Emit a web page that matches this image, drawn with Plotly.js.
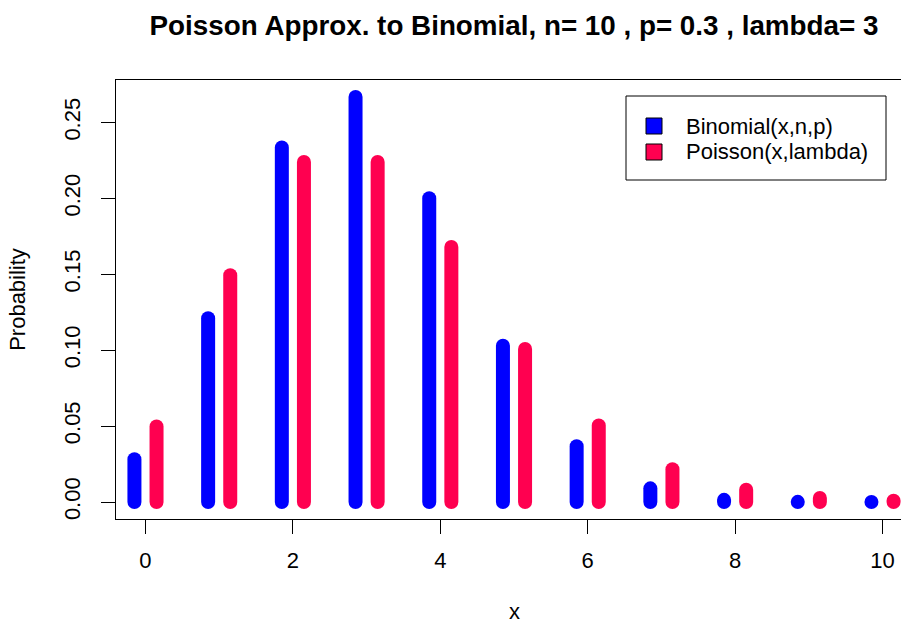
<!DOCTYPE html>
<html>
<head>
<meta charset="utf-8">
<script src="https://cdn.plot.ly/plotly-3.0.1.min.js"></script>
<style>
  html, body { margin: 0; padding: 0; overflow: hidden; background: #fff; }
  #chart { width: 912px; height: 626px; }
  .scatterlayer .js-line { stroke-linecap: round; }
</style>
</head>
<body>
<div id="chart"></div>
<script>
// Data
var xValues = [0, 1, 2, 3, 4, 5, 6, 7, 8, 9, 10];
var binomialProb = [0.0282, 0.1211, 0.2335, 0.2668, 0.2001, 0.1029, 0.0368, 0.0090, 0.0014, 0.0001, 0.0000];
var poissonProb  = [0.0498, 0.1494, 0.2240, 0.2240, 0.1680, 0.1008, 0.0504, 0.0216, 0.0081, 0.0027, 0.0008];
var seriesNames = ['Binomial(x,n,p)', 'Poisson(x,lambda)'];
var xTicks = [0, 2, 4, 6, 8, 10];
var yTicks = [0, 0.05, 0.10, 0.15, 0.20, 0.25];

var BLUE = '#0000FF', RED = '#FF0050';
var COLORS = [BLUE, RED];
var FONT = 'Liberation Sans, Arial, Helvetica, sans-serif';

// plot area in pixels (for legend / title placement only)
var PL = 116, PR = 912, PT = 80, PB = 519;
function px(xp) { return (xp - PL) / (PR - PL); }
function py(yp) { return (PB - yp) / (PB - PT); }

function spikes(xs, ys, offset) {
  var ox = [], oy = [];
  for (var i = 0; i < xs.length; i++) {
    ox.push(xs[i] + offset, xs[i] + offset, null);
    oy.push(0, ys[i], null);
  }
  return {x: ox, y: oy};
}

var b = spikes(xValues, binomialProb, -0.15);
var p = spikes(xValues, poissonProb, 0.15);

var traces = [
  {x: b.x, y: b.y, type: 'scatter', mode: 'lines', name: seriesNames[0],
   line: {color: BLUE, width: 14, simplify: false},
   showlegend: false, hoverinfo: 'skip', connectgaps: false},
  {x: p.x, y: p.y, type: 'scatter', mode: 'lines', name: seriesNames[1],
   line: {color: RED, width: 14, simplify: false},
   showlegend: false, hoverinfo: 'skip', connectgaps: false}
];

// Legend drawn as box + squares + labels
var legBox = {x0: 626, x1: 886, y0: 96, y1: 180};
var itemY = [126, 152];
var shapes = [{
  type: 'rect', xref: 'paper', yref: 'paper',
  x0: px(legBox.x0), x1: px(legBox.x1), y0: py(legBox.y1), y1: py(legBox.y0),
  line: {color: '#000', width: 1}, fillcolor: '#fff', layer: 'above'
}];
var annotations = [];
seriesNames.forEach(function(name, i) {
  shapes.push({
    type: 'rect', xref: 'paper', yref: 'paper',
    x0: px(646), x1: px(662), y0: py(itemY[i] + 8), y1: py(itemY[i] - 8),
    line: {color: '#000', width: 1}, fillcolor: COLORS[i], layer: 'above'
  });
  annotations.push({
    xref: 'paper', yref: 'paper', x: px(684), y: py(itemY[i]),
    xanchor: 'left', yanchor: 'middle', showarrow: false,
    text: name, font: {family: FONT, size: 22, color: '#000'}
  });
});
// x-axis title
annotations.push({
  xref: 'paper', yref: 'paper', x: px(514.5), y: py(611),
  xanchor: 'center', yanchor: 'middle', showarrow: false, borderpad: 0,
  text: 'x', font: {family: FONT, size: 22, color: '#000'}
});

var layout = {
  width: 912, height: 626, autosize: false,
  margin: {l: PL, r: 912 - PR, t: PT, b: 626 - PB, pad: 0},
  paper_bgcolor: '#fff', plot_bgcolor: '#fff',
  font: {family: FONT, size: 22, color: '#000'},
  showlegend: false,
  title: {
    text: '<b>Poisson Approx. to Binomial, n= 10 , p= 0.3 , lambda= 3</b>',
    font: {family: FONT, size: 27.8, color: '#000'},
    x: 0.5, xref: 'paper', xanchor: 'center',
    y: 1 - 25/626, yref: 'container', yanchor: 'middle'
  },
  xaxis: {
    range: [-0.4, 10.4], tickmode: 'array', tickvals: xTicks,
    ticktext: xTicks.map(String),
    ticks: 'outside', ticklen: 14, tickwidth: 1, tickcolor: '#000',
    showline: true, mirror: true, linecolor: '#000', linewidth: 1,
    showgrid: false, zeroline: false, ticklabelstandoff: 8,
    tickfont: {family: FONT, size: 22, color: '#000'}
  },
  yaxis: {
    range: [-0.0112, 0.278], tickmode: 'array', tickvals: yTicks,
    ticktext: yTicks.map(function(v){ return v.toFixed(2); }),
    ticks: 'outside', ticklen: 14, tickwidth: 1, tickcolor: '#000',
    tickangle: -90, ticklabelstandoff: 12,
    showline: true, mirror: true, linecolor: '#000', linewidth: 1,
    showgrid: false, zeroline: false,
    tickfont: {family: FONT, size: 22, color: '#000'},
    title: {text: 'Probability', font: {family: FONT, size: 22, color: '#000'}, standoff: 28}
  },
  shapes: shapes,
  annotations: annotations
};

Plotly.newPlot('chart', traces, layout, {displayModeBar: false, staticPlot: true});
</script>
</body>
</html>
